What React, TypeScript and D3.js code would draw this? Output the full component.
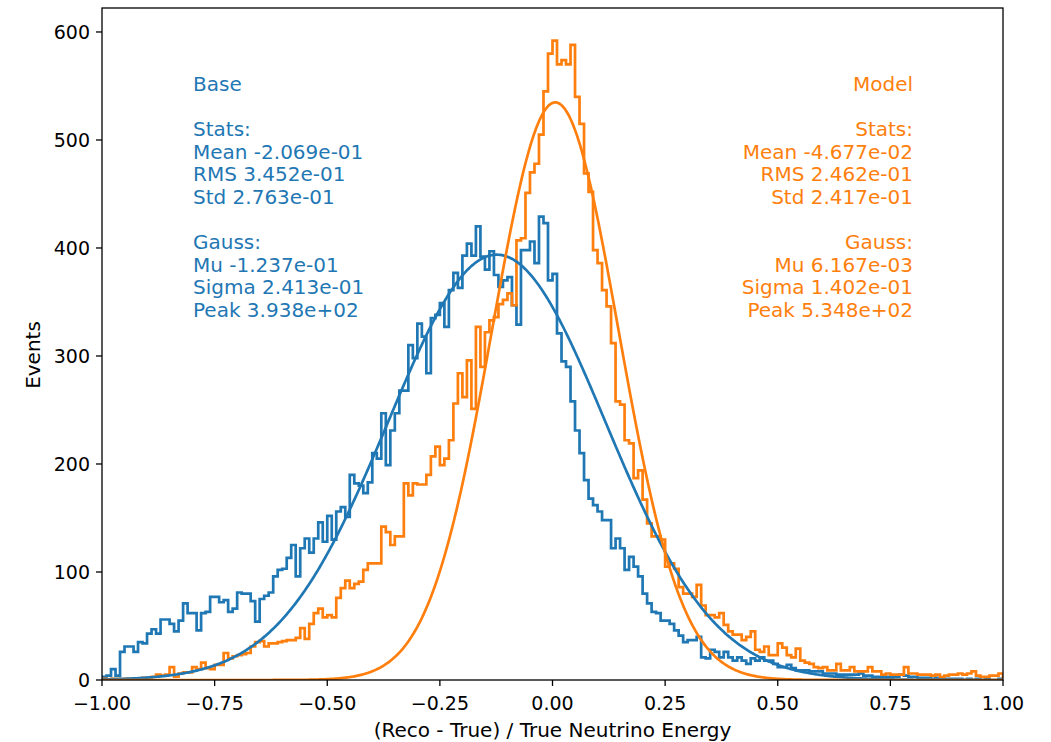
import React from "react";
import * as d3 from "d3";

// Histogram bins: 200 bins of width 0.01 spanning [-1, 1]
const binEdges: number[] = Array.from({ length: 201 }, (_, i) => -1 + i * 0.01);

const baseCounts: number[] = [
  3, 4, 10, 4, 26, 31, 31, 26, 35, 34,
  43, 47, 43, 56, 56, 52, 45, 55, 71, 62,
  62, 46, 62, 63, 77, 77, 72, 74, 63, 66,
  81, 80, 80, 73, 54, 75, 78, 81, 96, 102,
  103, 113, 125, 96, 122, 131, 118, 131, 146, 128,
  152, 130, 156, 160, 151, 190, 182, 180, 173, 183,
  210, 205, 247, 199, 231, 247, 268, 268, 310, 298,
  330, 318, 284, 335, 338, 349, 327, 361, 377, 363,
  393, 404, 393, 420, 392, 380, 397, 375, 364, 370,
  373, 347, 329, 398, 398, 406, 386, 429, 423, 370,
  376, 321, 295, 290, 258, 231, 210, 185, 168, 162,
  156, 148, 148, 122, 131, 122, 102, 114, 105, 96,
  80, 71, 63, 62, 55, 55, 52, 46, 41, 35,
  37, 37, 40, 21, 20, 28, 26, 21, 26, 21,
  18, 21, 18, 15, 20, 18, 21, 18, 18, 15,
  12, 12, 14, 11, 9, 9, 9, 8, 8, 8,
  6, 6, 6, 5, 5, 5, 5, 5, 6, 4,
  4, 3, 3, 3, 3, 3, 3, 5, 4, 3,
  3, 2, 2, 2, 1, 2, 1, 1, 1, 1,
  1, 0, 1, 0, 1, 0, 1, 0, 0, 1,
];

const modelCounts: number[] = [
  1, 0, 1, 1, 0, 1, 1, 0, 1, 2,
  1, 3, 5, 4, 5, 12, 3, 6, 7, 7,
  12, 10, 16, 11, 10, 14, 14, 25, 20, 22,
  23, 24, 25, 31, 35, 36, 31, 34, 34, 35,
  36, 37, 37, 39, 48, 38, 52, 62, 66, 58,
  60, 58, 76, 85, 92, 85, 89, 91, 102, 108,
  108, 108, 142, 137, 125, 133, 133, 182, 171, 182,
  181, 181, 190, 207, 216, 199, 205, 222, 256, 284,
  262, 296, 251, 327, 290, 322, 333, 336, 348, 352,
  358, 347, 407, 409, 451, 470, 478, 505, 545, 580,
  592, 570, 574, 570, 588, 540, 515, 469, 452, 398,
  386, 361, 346, 312, 258, 255, 222, 219, 187, 194,
  167, 145, 133, 133, 130, 105, 108, 103, 86, 80,
  80, 77, 88, 69, 60, 60, 58, 62, 51, 45,
  42, 42, 37, 40, 45, 28, 26, 31, 23, 23,
  34, 30, 23, 21, 29, 18, 16, 15, 12, 11,
  12, 9, 9, 15, 9, 9, 12, 8, 8, 8,
  12, 8, 8, 5, 6, 5, 5, 5, 12, 6,
  6, 5, 5, 5, 4, 5, 3, 4, 5, 5,
  6, 5, 6, 8, 4, 3, 3, 4, 4, 6,
];

// Gaussian fit parameters
const baseFit = { mu: -1.237e-1, sigma: 2.413e-1, peak: 3.938e2 };
const modelFit = { mu: 6.167e-3, sigma: 1.402e-1, peak: 5.348e2 };

const baseLines: string[] = [
  "Base", "", "Stats:", "Mean -2.069e-01", "RMS 3.452e-01", "Std 2.763e-01",
  "", "Gauss:", "Mu -1.237e-01", "Sigma 2.413e-01", "Peak 3.938e+02",
];
const modelLines: string[] = [
  "Model", "", "Stats:", "Mean -4.677e-02", "RMS 2.462e-01", "Std 2.417e-01",
  "", "Gauss:", "Mu 6.167e-03", "Sigma 1.402e-01", "Peak 5.348e+02",
];

const xTicks: number[] = [-1, -0.75, -0.5, -0.25, 0, 0.25, 0.5, 0.75, 1];
const yTicks: number[] = [0, 100, 200, 300, 400, 500, 600];

const BLUE = "#1f77b4";
const ORANGE = "#ff7f0e";
const FONT = "'DejaVu Sans', sans-serif";

const W = 1051;
const H = 742;
const M = { left: 102, right: 1003, top: 8, bottom: 680 };

const x = d3.scaleLinear().domain([-1, 1]).range([M.left, M.right]);
const y = d3.scaleLinear().domain([0, 622.2]).range([M.bottom, M.top]);

function stepPath(counts: number[]): string {
  const pts: [number, number][] = [[binEdges[0], 0]];
  counts.forEach((c, i) => {
    pts.push([binEdges[i], c]);
    pts.push([binEdges[i + 1], c]);
  });
  pts.push([binEdges[binEdges.length - 1], 0]);
  return d3.line<[number, number]>().x((d) => x(d[0])).y((d) => y(d[1]))(pts) || "";
}

function gaussPath(p: { mu: number; sigma: number; peak: number }): string {
  const xs = d3.range(0, 801).map((i) => -1 + (i * 2) / 800);
  const pts: [number, number][] = xs.map((v) => [
    v,
    p.peak * Math.exp(-0.5 * ((v - p.mu) / p.sigma) ** 2),
  ]);
  return d3.line<[number, number]>().x((d) => x(d[0])).y((d) => y(d[1]))(pts) || "";
}

const fmtX = (v: number) => d3.format(".2f")(v).replace("-", "\u2212");

export default function App() {
  const lineH = 22.6;
  const firstBaseline = 91;
  const fontSize = 20;
  const tickSize = 19;
  const lw = 2.7;
  return (
    <svg
      width={W}
      height={H}
      style={{ position: "absolute", left: 0, top: 0, background: "#fff" }}
      fontFamily={FONT}
    >
      <defs>
        <clipPath id="plot-area">
          <rect x={M.left} y={M.top} width={M.right - M.left} height={M.bottom - M.top} />
        </clipPath>
      </defs>
      <rect x={0} y={0} width={W} height={H} fill="#fff" />
      <g clipPath="url(#plot-area)" fill="none" strokeLinejoin="miter">
        <path d={stepPath(baseCounts)} stroke={BLUE} strokeWidth={lw} />
        <path d={stepPath(modelCounts)} stroke={ORANGE} strokeWidth={lw} />
        <path d={gaussPath(baseFit)} stroke={BLUE} strokeWidth={lw} />
        <path d={gaussPath(modelFit)} stroke={ORANGE} strokeWidth={lw} />
      </g>

      {baseLines.map((t, i) => (
        <text key={"b" + i} x={193} y={firstBaseline + i * lineH} fill={BLUE} fontSize={fontSize}>
          {t}
        </text>
      ))}
      {modelLines.map((t, i) => (
        <text
          key={"m" + i}
          x={913}
          y={firstBaseline + i * lineH}
          fill={ORANGE}
          fontSize={fontSize}
          textAnchor="end"
        >
          {t}
        </text>
      ))}

      <rect
        x={M.left}
        y={M.top}
        width={M.right - M.left}
        height={M.bottom - M.top}
        fill="none"
        stroke="#000"
        strokeWidth={1.3}
      />

      {xTicks.map((t) => (
        <g key={"x" + t}>
          <line x1={x(t)} x2={x(t)} y1={M.bottom} y2={M.bottom + 6} stroke="#000" strokeWidth={1.3} />
          <text x={x(t)} y={M.bottom + 30} textAnchor="middle" fontSize={tickSize} fill="#000">
            {fmtX(t)}
          </text>
        </g>
      ))}
      {yTicks.map((t) => (
        <g key={"y" + t}>
          <line x1={M.left - 6} x2={M.left} y1={y(t)} y2={y(t)} stroke="#000" strokeWidth={1.3} />
          <text x={M.left - 12} y={y(t) + 7} textAnchor="end" fontSize={tickSize} fill="#000">
            {t}
          </text>
        </g>
      ))}

      <text x={(M.left + M.right) / 2} y={737} textAnchor="middle" fontSize={fontSize} fill="#000">
        (Reco - True) / True Neutrino Energy
      </text>
      <text
        transform={`translate(40, 355) rotate(-90)`}
        textAnchor="middle"
        fontSize={fontSize}
        fill="#000"
      >
        Events
      </text>
    </svg>
  );
}
